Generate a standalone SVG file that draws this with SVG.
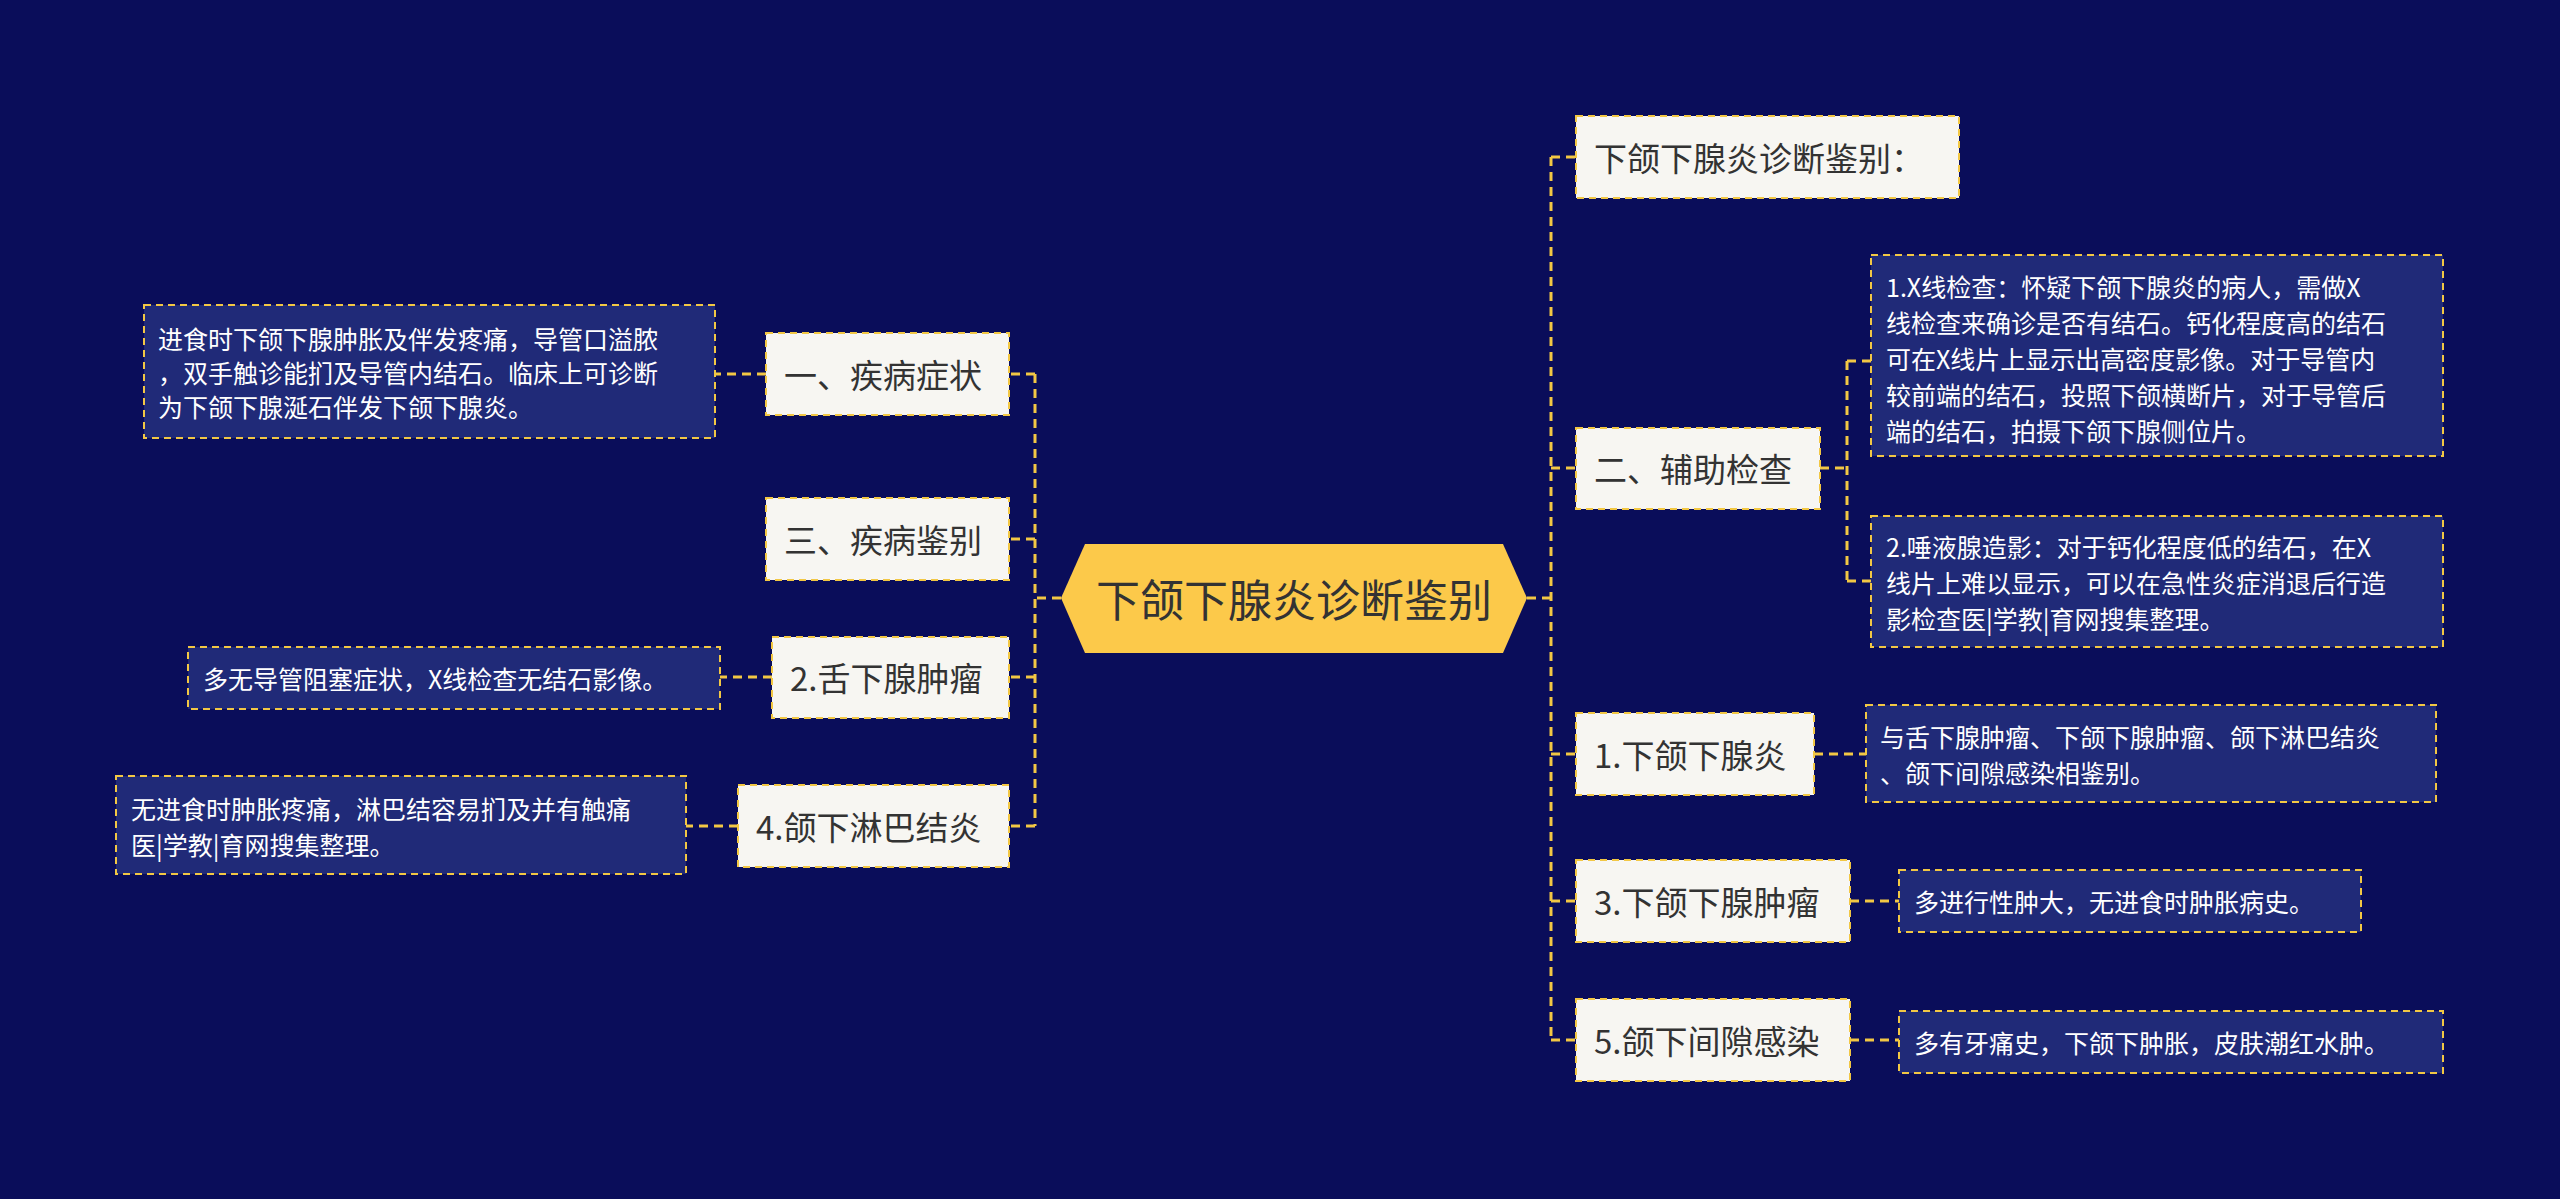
<svg xmlns="http://www.w3.org/2000/svg" width="2560" height="1199" viewBox="0 0 2560 1199">
<style>
text{font-family:"Noto Sans CJK SC","Noto Sans",sans-serif;dominant-baseline:central}
.n rect{fill:#f7f6f2;stroke:#f2c744;stroke-width:2;stroke-dasharray:7 5}
.n text{font-size:33px;fill:#333}
.l rect{fill:#202a78;stroke:#f2c744;stroke-width:2;stroke-dasharray:7 5}
.l text{font-size:25px;fill:#fff}
#connectors path{fill:none;stroke:#f2c744;stroke-width:3;stroke-dasharray:9 6}
</style>
<rect width="2560" height="1199" fill="#0a0d5a"/>
<g id="connectors">
<path d="M1527 598H1551M1551 157V1040M1551 157H1576M1551 468H1576M1551 754H1576M1551 901H1576M1551 1040H1576"/>
<path d="M1820 468H1847M1847 361V581M1847 361H1871M1847 581H1871"/>
<path d="M1814 754H1866M1850 901H1899M1850 1040H1899"/>
<path d="M1061 598H1035M1035 374V826M1035 374H1009M1035 539H1009M1035 677H1009M1035 826H1009"/>
<path d="M766 374H715M772 677H720M738 826H686"/>
</g>
<g id="center">
<polygon points="1085,544 1503,544 1527,598 1503,653 1085,653 1061,598" fill="#fcc94a"/>
<text x="1294" y="598" font-size="44" fill="#333" text-anchor="middle">下颌下腺炎诊断鉴别</text>
</g>
<g id="r0" class="n"><rect x="1576" y="116" width="383" height="82"/><text x="1594" y="157">下颌下腺炎诊断鉴别：</text></g>
<g id="r1" class="n"><rect x="1576" y="428" width="244" height="81"/><text x="1594" y="468">二、辅助检查</text></g>
<g id="r2" class="n"><rect x="1576" y="713" width="238" height="82"/><text x="1594" y="754">1.下颌下腺炎</text></g>
<g id="r3" class="n"><rect x="1576" y="860" width="274" height="82"/><text x="1594" y="901">3.下颌下腺肿瘤</text></g>
<g id="r4" class="n"><rect x="1576" y="999" width="274" height="82"/><text x="1594" y="1040">5.颌下间隙感染</text></g>
<g id="l1" class="n"><rect x="766" y="333" width="243" height="82"/><text x="784" y="374">一、疾病症状</text></g>
<g id="l2" class="n"><rect x="766" y="498" width="243" height="82"/><text x="784" y="539">三、疾病鉴别</text></g>
<g id="l3" class="n"><rect x="772" y="637" width="237" height="81"/><text x="790" y="677">2.舌下腺肿瘤</text></g>
<g id="l4" class="n"><rect x="738" y="785" width="271" height="82"/><text x="756" y="826">4.颌下淋巴结炎</text></g>
<g id="rl1" class="l"><rect x="1871" y="255" width="572" height="201"/>
<text x="1886" y="286">1.X线检查：怀疑下颌下腺炎的病人，需做X</text>
<text x="1886" y="322">线检查来确诊是否有结石。钙化程度高的结石</text>
<text x="1886" y="358">可在X线片上显示出高密度影像。对于导管内</text>
<text x="1886" y="394">较前端的结石，投照下颌横断片，对于导管后</text>
<text x="1886" y="430">端的结石，拍摄下颌下腺侧位片。</text></g>
<g id="rl2" class="l"><rect x="1871" y="516" width="572" height="131"/>
<text x="1886" y="546">2.唾液腺造影：对于钙化程度低的结石，在X</text>
<text x="1886" y="582">线片上难以显示，可以在急性炎症消退后行造</text>
<text x="1886" y="618">影检查医|学教|育网搜集整理。</text></g>
<g id="rl3" class="l"><rect x="1866" y="705" width="570" height="97"/>
<text x="1880" y="736">与舌下腺肿瘤、下颌下腺肿瘤、颌下淋巴结炎</text>
<text x="1880" y="772">、颌下间隙感染相鉴别。</text></g>
<g id="rl4" class="l"><rect x="1899" y="870" width="462" height="62"/><text x="1914" y="901">多进行性肿大，无进食时肿胀病史。</text></g>
<g id="rl5" class="l"><rect x="1899" y="1011" width="544" height="62"/><text x="1914" y="1042">多有牙痛史，下颌下肿胀，皮肤潮红水肿。</text></g>
<g id="ll1" class="l"><rect x="144" y="305" width="571" height="133"/>
<text x="158" y="338">进食时下颌下腺肿胀及伴发疼痛，导管口溢脓</text>
<text x="158" y="372">，双手触诊能扪及导管内结石。临床上可诊断</text>
<text x="158" y="406">为下颌下腺涎石伴发下颌下腺炎。</text></g>
<g id="ll2" class="l"><rect x="188" y="647" width="532" height="62"/><text x="203" y="678">多无导管阻塞症状，X线检查无结石影像。</text></g>
<g id="ll3" class="l"><rect x="116" y="776" width="570" height="98"/>
<text x="131" y="808">无进食时肿胀疼痛，淋巴结容易扪及并有触痛</text>
<text x="131" y="844">医|学教|育网搜集整理。</text></g>
</svg>
